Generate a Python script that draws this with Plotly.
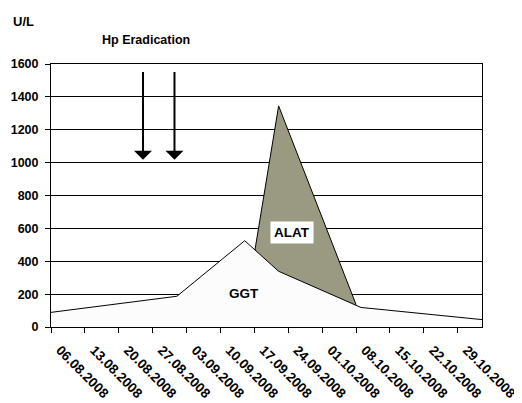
import plotly.graph_objects as go

# Data
tick_labels = ["06.08.2008", "13.08.2008", "20.08.2008", "27.08.2008", "03.09.2008",
               "10.09.2008", "17.09.2008", "24.09.2008", "01.10.2008", "08.10.2008",
               "15.10.2008", "22.10.2008", "29.10.2008"]
ggt_dates = ["2008-08-06", "2008-09-01", "2008-09-15", "2008-09-22", "2008-10-09", "2008-11-03"]
ggt_values = [89, 187, 525, 339, 119, 45]
alat_dates = ["2008-09-15", "2008-09-22", "2008-10-08"]
alat_values = [90, 1345, 136]
arrow_dates = ["2008-08-25", "2008-08-31 12:00"]
arrow_top, arrow_tip = 1560, 1017
y_ticks = [0, 200, 400, 600, 800, 1000, 1200, 1400, 1600]

def to_iso(lbl):
    d, m, y = lbl.split(".")
    return f"{y}-{m}-{d}"

tick_vals = [to_iso(t) for t in tick_labels]

FONT = "Arial, Liberation Sans, sans-serif"

fig = go.Figure()
fig.add_trace(go.Scatter(x=alat_dates, y=alat_values, mode="lines", fill="tozeroy",
                         fillcolor="#9a9a82", line=dict(color="black", width=1),
                         hoverinfo="skip", showlegend=False))
fig.add_trace(go.Scatter(x=ggt_dates, y=ggt_values, mode="lines", fill="tozeroy",
                         fillcolor="#fcfcfc", line=dict(color="black", width=1),
                         hoverinfo="skip", showlegend=False))

for d in arrow_dates:
    fig.add_annotation(x=d, y=arrow_tip, ax=d, ay=arrow_top, xref="x", yref="y",
                       axref="x", ayref="y", showarrow=True, arrowhead=1,
                       arrowsize=1.5, arrowwidth=2, arrowcolor="black", text="")

fig.add_annotation(x="2008-09-24 17:00", y=576, xref="x", yref="y", text="<b>ALAT</b>",
                   showarrow=False, bgcolor="white", borderpad=3,
                   font=dict(family=FONT, size=13.5, color="black"))
fig.add_annotation(x="2008-09-14 21:00", y=202, xref="x", yref="y", text="<b>GGT</b>",
                   showarrow=False, font=dict(family=FONT, size=13.5, color="black"))
fig.add_annotation(x=-0.0627, y=1.1615, xref="paper", yref="paper", text="<b>U/L</b>",
                   showarrow=False, xanchor="center", yanchor="middle",
                   font=dict(family=FONT, size=13, color="black"))
fig.add_annotation(x=0.2215, y=1.093, xref="paper", yref="paper", text="<b>Hp Eradication</b>",
                   showarrow=False, xanchor="center", yanchor="middle",
                   font=dict(family=FONT, size=12.5, color="black"))

# page body has an 8px default margin (top/left), so the figure is sized to fit inside it
fig.update_layout(
    width=514, height=395,
    margin=dict(l=43, r=40, t=56, b=76),
    paper_bgcolor="white", plot_bgcolor="white",
    font=dict(family=FONT, size=12.5, color="black"),
    showlegend=False,
)
fig.update_xaxes(type="date", range=["2008-08-06", "2008-11-03"],
                 tickvals=tick_vals, ticktext=[f"<b>{t}</b>" for t in tick_labels],
                 tickangle=45, ticks="outside", ticklen=5, tickcolor="black",
                 ticklabelstandoff=4, ticklabelshift=9,
                 tickfont=dict(family=FONT, size=13.5, color="black"),
                 showline=True, linecolor="black", linewidth=1, mirror=True,
                 showgrid=False, zeroline=False, automargin=False)
fig.update_yaxes(range=[0, 1600], tickvals=y_ticks,
                 ticktext=[f"<b>{v}</b>" for v in y_ticks],
                 ticks="outside", ticklen=5, tickcolor="black", ticklabelstandoff=4,
                 showline=True, linecolor="black", linewidth=1, mirror=True,
                 showgrid=True, gridcolor="black", gridwidth=1, zeroline=False,
                 automargin=False)

fig.write_html("out.html")
